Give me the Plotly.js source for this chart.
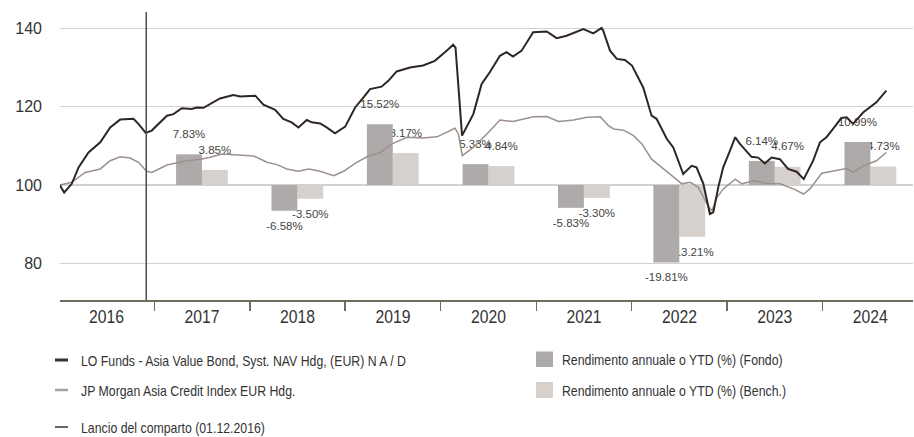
<!DOCTYPE html>
<html>
<head>
<meta charset="utf-8">
<script src="https://cdn.plot.ly/plotly-3.0.1.min.js"></script>
<style>html,body{margin:0;padding:0;background:#fff;}#chart{width:914px;height:437px;}</style>
</head>
<body>
<div id="chart"></div>
<script>
// ---- Data ----
const fundDates = ['2016-01-05','2016-01-22','2016-02-20','2016-03-17','2016-04-24','2016-06-08','2016-07-16','2016-08-23','2016-10-13','2016-11-01','2016-11-29','2016-12-22',
 '2017-02-18','2017-03-15','2017-04-16','2017-05-24','2017-06-12','2017-07-08','2017-09-09','2017-10-30','2017-11-25',
 '2018-01-22','2018-02-22','2018-04-08','2018-05-09','2018-06-10','2018-07-06','2018-08-07','2018-08-26','2018-09-27','2018-10-22','2018-11-23',
 '2019-01-01','2019-02-08','2019-03-12','2019-04-06','2019-05-20','2019-06-15','2019-07-17','2019-09-06','2019-10-26','2019-12-10',
 '2020-01-24','2020-02-18','2020-02-27','2020-03-12','2020-03-23','2020-05-05','2020-06-06','2020-07-07','2020-08-15','2020-09-09','2020-10-04','2020-11-06','2020-12-20',
 '2021-02-10','2021-03-20','2021-04-27','2021-06-30','2021-08-07','2021-09-08','2021-09-14','2021-10-10','2021-11-05','2021-12-06',
 '2022-01-02','2022-02-02','2022-02-14','2022-03-18','2022-04-06','2022-05-15','2022-06-09','2022-07-17','2022-08-18','2022-09-06','2022-10-02','2022-10-27','2022-11-09','2022-11-28','2022-12-17',
 '2023-01-12','2023-02-01','2023-02-19','2023-04-04','2023-04-30','2023-05-25','2023-06-20','2023-07-22','2023-08-22','2023-09-24','2023-10-21','2023-11-26','2023-12-22',
 '2024-01-16','2024-02-10','2024-03-13','2024-04-02','2024-04-27','2024-06-04','2024-07-25','2024-09-01'];
const fundValues = [100.0,98.1,100.3,104.5,108.3,110.9,114.7,116.7,116.9,115.6,113.3,113.9,
 117.7,118.1,119.6,119.4,119.8,119.7,122.1,123.0,122.6,
 122.8,120.5,119.2,116.9,116.0,114.7,116.6,116.0,115.7,114.7,113.2,
 114.9,119.8,122.4,124.5,125.1,126.6,129.0,130.0,130.5,131.7,
 134.3,135.8,135.1,122.4,112.6,118.1,125.8,128.8,133.0,133.9,132.8,134.3,139.0,
 139.2,137.5,138.1,139.8,138.7,140.1,139.4,134.3,132.2,131.9,
 130.5,126.6,124.9,117.7,116.9,111.8,109.6,102.8,104.9,104.5,100.3,92.6,93.0,99.4,104.5,
 108.8,112.2,110.5,107.2,107.0,105.5,107.0,106.6,104.1,103.4,101.5,106.2,110.9,
 112.2,114.3,117.1,117.3,115.6,118.5,121.1,124.1];

const benchDates = ['2016-01-05','2016-02-20','2016-04-11','2016-06-08','2016-07-16','2016-08-23','2016-09-30','2016-11-01','2016-12-03','2016-12-22',
 '2017-02-18','2017-03-29','2017-05-06','2017-06-26','2017-08-03','2017-09-17','2017-10-30',
 '2018-01-16','2018-03-08','2018-04-15','2018-05-23','2018-07-06','2018-08-14','2018-09-27','2018-11-18','2018-12-26',
 '2019-02-08','2019-03-25','2019-05-15','2019-06-29','2019-08-25','2019-10-26','2019-12-18',
 '2020-01-24','2020-02-25','2020-03-09','2020-03-24','2020-05-05','2020-06-26','2020-08-15','2020-10-04','2020-12-20',
 '2021-02-10','2021-03-27','2021-05-24','2021-07-14','2021-09-03','2021-10-05','2021-10-24','2021-12-01',
 '2022-01-08','2022-02-09','2022-03-18','2022-04-20','2022-05-28','2022-07-12','2022-08-13','2022-09-13','2022-10-16','2022-11-04','2022-11-23','2022-12-17',
 '2023-02-01','2023-02-26','2023-04-12','2023-06-02','2023-07-22','2023-09-12','2023-10-20','2023-11-14','2023-12-29',
 '2024-02-10','2024-04-02','2024-04-27','2024-06-04','2024-07-25','2024-09-01'];
const benchValues = [100.0,100.7,103.2,104.1,106.2,107.2,106.9,105.8,103.5,103.2,
 105.1,105.7,106.2,106.6,107.1,107.9,107.7,
 107.4,105.8,105.2,104.1,103.5,104.1,103.5,102.4,103.5,
 105.5,107.2,108.3,110.5,112.2,112.0,112.3,
 113.4,114.5,113.0,107.5,109.6,113.0,116.6,116.2,117.4,
 117.5,116.2,116.6,117.3,117.4,115.1,114.3,114.0,
 112.6,110.5,106.6,104.8,102.8,100.3,100.7,99.4,95.1,93.4,96.8,99.0,
 101.5,100.3,101.1,100.4,100.3,99.0,97.7,99.0,103.0,
 103.5,104.2,103.2,104.9,106.2,108.3];

const years = ['2017','2018','2019','2020','2021','2022','2023','2024'];
const fundReturns  = [7.83, -6.58, 15.52, 5.33, -5.83, -19.81, 6.14, 10.99];
const benchReturns = [3.85, -3.50, 8.17, 4.84, -3.30, -13.21, 4.67, 4.73];
const launchDate = '2016-12-01';

const fundName  = 'LO Funds - Asia Value Bond, Syst. NAV Hdg, (EUR) N A / D';
const benchName = 'JP Morgan Asia Credit Index EUR Hdg.';
const launchName = 'Lancio del comparto (01.12.2016)';
const fundBarName = 'Rendimento annuale o YTD (%) (Fondo)';
const benchBarName = 'Rendimento annuale o YTD (%) (Bench.)';

// ---- Styling ----
const BASE = 100;
const DAY = 86400000;
const barW = 99 * DAY;
const cFund = '#2f2624', cBench = '#9c918c';
const cFundBar = '#aeaaa9', cBenchBar = '#d6d1cd';
const sans = '"Liberation Sans", Arial, Helvetica, sans-serif';
const barX = years.map(y => y + '-07-02');
const fmt = v => v.toFixed(2) + '%';
const padUp = 2.9, padDown = 1.5;   // label distance beyond bar end (axis units)
const carrier = arr => arr.map(v => v >= 0 ? v + padUp : v - padDown);

function labelTrace(vals, offset) {
  return {type:'bar', x:barX, y:carrier(vals), base:BASE, offset:offset, width:barW,
    marker:{color:'rgba(0,0,0,0)', line:{width:0}}, text:vals.map(fmt), textposition:'outside',
    constraintext:'none', cliponaxis:false, textfont:{family:sans, size:11.5, color:'#444'},
    hoverinfo:'skip', showlegend:false};
}
function barTrace(vals, offset, color, name) {
  return {type:'bar', x:barX, y:vals, base:BASE, offset:offset, width:barW, name:name,
    marker:{color:color, line:{width:0}}, showlegend:false};
}

const data = [
  labelTrace(benchReturns, 0),
  barTrace(benchReturns, 0, cBenchBar, benchBarName),
  labelTrace(fundReturns, -barW),
  barTrace(fundReturns, -barW, cFundBar, fundBarName),
  {type:'scatter', mode:'lines', x:benchDates, y:benchValues, name:benchName,
   line:{color:cBench, width:1.5}, showlegend:false},
  {type:'scatter', mode:'lines', x:fundDates, y:fundValues, name:fundName,
   line:{color:cFund, width:2}, showlegend:false}
];

// legend drawn by hand (pixel positions -> paper)
const PL = 60, PW = 853, PB = 300, PH = 288;
const px = v => (v - PL) / PW, py = v => (PB - v) / PH;
const legShapes = [
  {type:'line', xref:'paper', yref:'paper', x0:px(55), x1:px(68), y0:py(360), y1:py(360), line:{color:'#3a302d', width:3}},
  {type:'line', xref:'paper', yref:'paper', x0:px(55), x1:px(68), y0:py(390), y1:py(390), line:{color:'#a8a09c', width:2.5}},
  {type:'line', xref:'paper', yref:'paper', x0:px(55), x1:px(68), y0:py(427), y1:py(427), line:{color:'#333', width:1.5}},
  {type:'rect', xref:'paper', yref:'paper', x0:px(536), x1:px(553), y0:py(351.5), y1:py(367), fillcolor:cFundBar, line:{width:0}},
  {type:'rect', xref:'paper', yref:'paper', x0:px(536), x1:px(553), y0:py(382), y1:py(398), fillcolor:cBenchBar, line:{width:0}}
];
const legFont = {family:sans, size:15, color:'#333'};
const legAnn = [
  [fundName, 79, 360], [benchName, 79, 390], [launchName, 79, 427],
  [fundBarName, 560, 359], [benchBarName, 560, 390]
].map(([t, x, y]) => ({text:t, xref:'paper', yref:'paper', x:px(x), y:py(y), xanchor:'left', yanchor:'middle',
  showarrow:false, font:legFont}));

const layout = {
  width:914, height:437,
  margin:{l:PL, r:914-PL-PW, t:12, b:437-PB},
  paper_bgcolor:'#fff', plot_bgcolor:'#fff',
  barmode:'overlay', showlegend:false, hovermode:false,
  xaxis:{type:'date', range:['2016-01-06','2024-12-12'], tick0:'2016-01-01', dtick:'M12',
    ticklabelmode:'period', tickformat:'%Y', ticks:'outside', ticklen:9, tickwidth:1.5, tickcolor:'#6e6e5e',
    showline:true, linecolor:'#6e6e5e', linewidth:2, showgrid:false, zeroline:false, ticklabelstandoff:-10,
    tickfont:{family:sans, size:18.5, color:'#333'}},
  yaxis:{range:[70.64,144.17], tickvals:[80,100,120,140], showgrid:true, gridcolor:'#d2d2d2', gridwidth:1.5,
    zeroline:false, showline:false, ticks:'', ticklabelstandoff:17,
    tickfont:{family:sans, size:16, color:'#333'}},
  shapes:[{type:'line', xref:'x', yref:'paper', x0:launchDate, x1:launchDate, y0:0, y1:1,
    line:{color:'#4a4a4a', width:1.5}}].concat(legShapes),
  annotations:legAnn
};

// condense text horizontally (the reference uses a condensed face)
function condense(el, k, keep) {
  const b0 = el.getBBox();
  const L = el.getComputedTextLength();
  el.setAttribute('textLength', (L * k).toFixed(2));
  el.setAttribute('lengthAdjust', 'spacingAndGlyphs');
  const b1 = el.getBBox();
  const ref0 = keep === 'left' ? b0.x : b0.x + b0.width / 2;
  const ref1 = keep === 'left' ? b1.x : b1.x + b1.width / 2;
  const x = parseFloat(el.getAttribute('x') || 0);
  el.setAttribute('x', (x + ref0 - ref1).toFixed(2));
}

Plotly.newPlot('chart', data, layout, {staticPlot:true, displayModeBar:false}).then(gd => {
  gd.querySelectorAll('.xtick text').forEach(el => condense(el, 0.85, 'center'));
  gd.querySelectorAll('.annotation-text').forEach(el => condense(el, 0.82, 'left'));
});
</script>
</body>
</html>
